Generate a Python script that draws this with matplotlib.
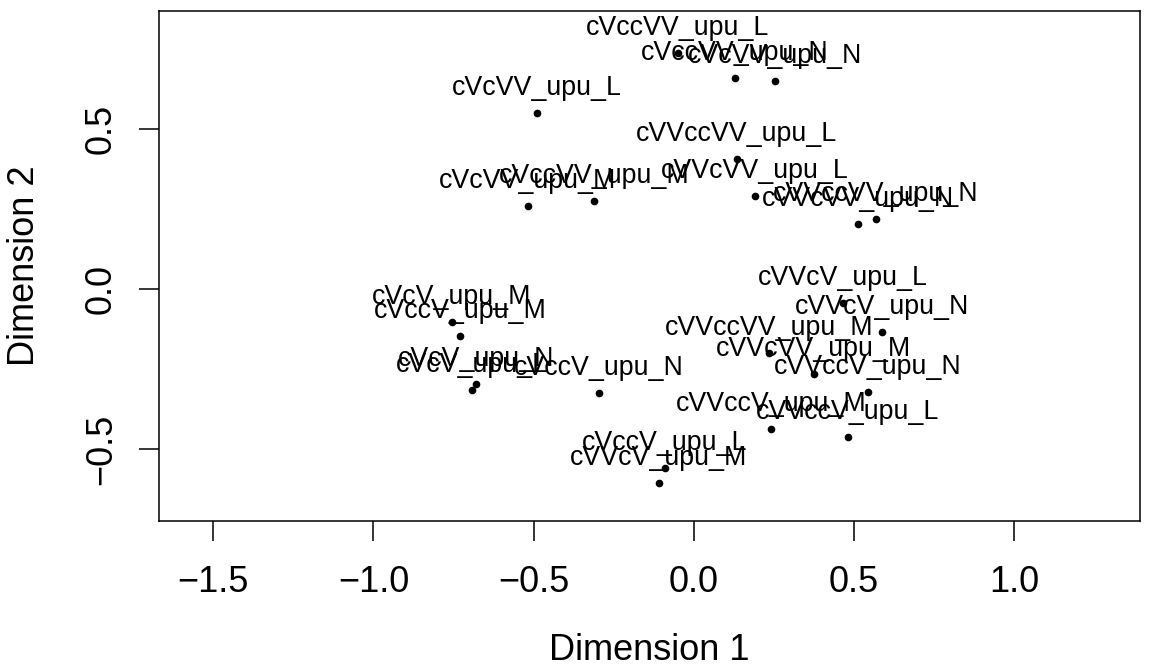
import matplotlib
matplotlib.use("Agg")
import matplotlib.pyplot as plt

plt.rcParams['font.family'] = ['Liberation Sans', 'DejaVu Sans']

# MDS coordinates
labels = [
    "cVccVV_upu_L", "cVccVV_upu_N", "cVcVV_upu_N", "cVcVV_upu_L",
    "cVVccVV_upu_L", "cVcVV_upu_M", "cVccVV_upu_M", "cVVcVV_upu_L",
    "cVVccVV_upu_N", "cVVcVV_upu_N", "cVcV_upu_M", "cVccV_upu_M",
    "cVcV_upu_N", "cVcV_upu_L", "cVccV_upu_N", "cVVcV_upu_L",
    "cVVcV_upu_N", "cVVccVV_upu_M", "cVVcVV_upu_M", "cVVccV_upu_N",
    "cVVccV_upu_M", "cVVccV_upu_L", "cVccV_upu_L", "cVVcV_upu_M",
]
dim1 = [-0.050, 0.128, 0.253, -0.490, 0.134, -0.518, -0.312, 0.190,
        0.568, 0.512, -0.755, -0.730, -0.680, -0.693, -0.296, 0.465,
        0.587, 0.234, 0.374, 0.543, 0.240, 0.480, -0.090, -0.109]
dim2 = [0.738, 0.659, 0.650, 0.550, 0.406, 0.259, 0.275, 0.291,
        0.219, 0.203, -0.103, -0.147, -0.297, -0.316, -0.325, -0.044,
        -0.134, -0.200, -0.266, -0.322, -0.438, -0.463, -0.559, -0.606]

xticks = [-1.5, -1.0, -0.5, 0.0, 0.5, 1.0]
yticks = [-0.5, 0.0, 0.5]

fig = plt.figure(figsize=(11.61, 6.72), dpi=100)
# plot box: x 159..1140 px, y 11..521 px
ax = fig.add_axes([159 / 1161, 1 - 521 / 672, 981 / 1161, 510 / 672])

ax.plot(dim1, dim2, 'o', color='black', markersize=4.5, linestyle='none')
for lab, x, y in zip(labels, dim1, dim2):
    ax.annotate(lab, (x, y), xytext=(0, 13), textcoords='offset points',
                ha='center', va='baseline', fontsize=19.3)

ax.set_xlim(-1.669, 1.392)
ax.set_ylim(-0.725, 0.869)
ax.set_xticks(xticks)
ax.set_xticklabels([f"{t:.1f}".replace('-', '\u2212') for t in xticks],
                   va='center')
ax.set_yticks(yticks)
ax.set_yticklabels([f"{t:.1f}".replace('-', '\u2212') for t in yticks],
                   rotation=90, va='center', ha='center')

for s in ax.spines.values():
    s.set_linewidth(1.1)
ax.tick_params(direction='out', length=14.4, width=1.1, labelsize=26)
ax.tick_params(axis='x', pad=30)
ax.tick_params(axis='y', pad=27)

ax.set_xlabel("Dimension 1", fontsize=26)
ax.set_ylabel("Dimension 2", fontsize=26)
ax.xaxis.set_label_coords(0.5, (521 - 650) / 510)
ax.xaxis.label.set_va('center')
ax.yaxis.set_label_coords((24 - 159) / 981, 0.5)
ax.yaxis.label.set_va('center')

fig.savefig("out.png", dpi=100)
